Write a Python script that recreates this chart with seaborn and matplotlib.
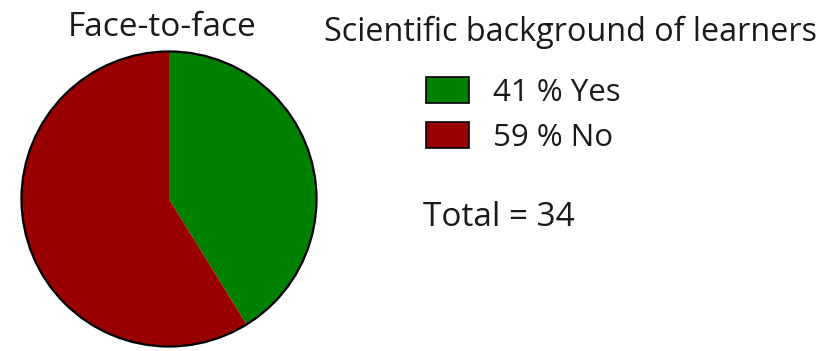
import matplotlib
matplotlib.use("Agg")
import matplotlib.pyplot as plt
from matplotlib.patches import Patch
import seaborn as sns

# Learners with a scientific background (face-to-face group)
categories = ["Yes", "No"]
counts = [14, 20]
percent_labels = ["41 %", "59 %"]
total_label = "Total = 34"
pie_title = "Face-to-face"
legend_title = "Scientific background of learners"

sns.set_theme(style="white")
plt.rcParams["font.family"] = ["Open Sans", "DejaVu Sans"]

colors = sns.color_palette(["#008000", "#990000"])
text_color = "#1a1a1a"

W, H = 823, 351
fig = plt.figure(figsize=(W / 100, H / 100), dpi=100)
ax = fig.add_axes([20 / W, 3 / H, 298 / W, 298 / H])

wedges, _ = ax.pie(counts, colors=colors, startangle=90, counterclock=False,
                   wedgeprops=dict(linewidth=0))
ax.add_patch(plt.Circle((0, 0), 1.0, fill=False, edgecolor="black", linewidth=1.6))
ax.set_xlim(-1.01, 1.01)
ax.set_ylim(-1.01, 1.01)
ax.set_aspect("equal")
ax.axis("off")

fig.text(162 / W, 1 - 36 / H, pie_title, ha="center", va="baseline",
         fontsize=24, color=text_color)
fig.text(570 / W, 1 - 41 / H, legend_title, ha="center", va="baseline",
         fontsize=23.3, color=text_color)

handles = [Patch(facecolor=c, edgecolor="black", linewidth=1.2) for c in colors]
labels = [f"{p} {c}" for p, c in zip(percent_labels, categories)]
leg = fig.legend(handles, labels, loc="upper left", bbox_to_anchor=(426 / W, 1 - 77 / H),
                 frameon=False, fontsize=22.5, handlelength=1.38, handleheight=0.9,
                 handletextpad=0.75, labelspacing=0.45, borderpad=0.0, borderaxespad=0.0)
for t in leg.get_texts():
    t.set_color(text_color)

fig.text(423 / W, 1 - 226 / H, total_label, ha="left", va="baseline",
         fontsize=24, color=text_color)

fig.savefig("out.png", dpi=100)
